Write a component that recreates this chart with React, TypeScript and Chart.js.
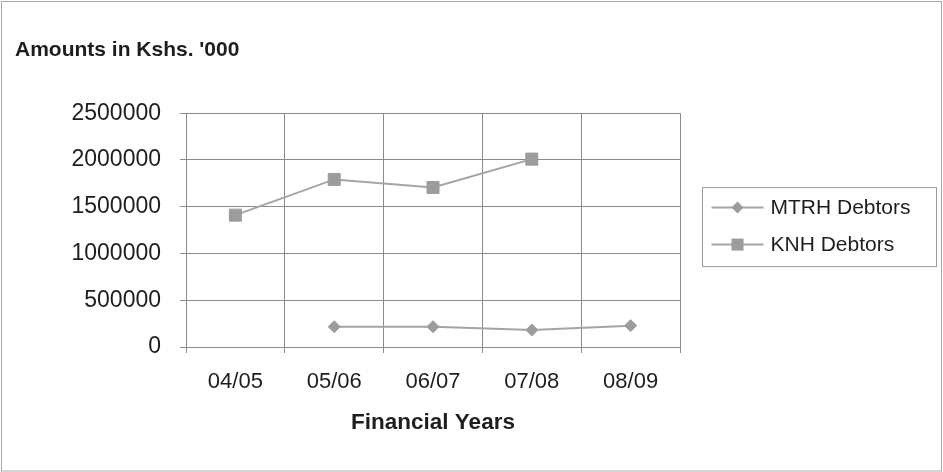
import React, { useEffect, useRef } from "react";
import { Chart, registerables } from "chart.js";

Chart.register(...registerables);

const categories = ["04/05", "05/06", "06/07", "07/08", "08/09"];
const mtrhDebtors: (number | null)[] = [null, 217000, 217000, 182000, 228000];
const knhDebtors: (number | null)[] = [1410000, 1792000, 1706000, 2009000, null];
const yMin = 0;
const yMax = 2500000;
const yStep = 500000;
const seriesNames = ["MTRH Debtors", "KNH Debtors"];
const chartTitle = "Amounts in Kshs. '000";
const xTitle = "Financial Years";

const LINE = "#a4a4a4";
const MARK = "#9c9c9c";
const GRID = "#8a8a8a";
const TEXT = "#1e1e1e";
const FONT = "'Liberation Sans', Arial, sans-serif";

const framePlugin = {
  id: "frame",
  beforeDraw(chart: any) {
    const { ctx, width, height } = chart;
    ctx.save();
    ctx.fillStyle = "#ffffff";
    ctx.fillRect(0, 0, width, height);
    ctx.strokeStyle = "#a8a8a8";
    ctx.lineWidth = 1;
    ctx.strokeRect(1.5, 1.5, width - 3, height - 2.5);
    ctx.restore();
  },
};

function drawMarker(ctx: CanvasRenderingContext2D, style: string, x: number, y: number, r: number) {
  ctx.beginPath();
  if (style === "rectRot") {
    ctx.moveTo(x, y - r);
    ctx.lineTo(x + r, y);
    ctx.lineTo(x, y + r);
    ctx.lineTo(x - r, y);
    ctx.closePath();
  } else {
    const s = Math.SQRT1_2 * r;
    ctx.rect(x - s, y - s, 2 * s, 2 * s);
  }
  ctx.fill();
}

const legendPlugin = {
  id: "boxLegend",
  afterDraw(chart: any) {
    const { ctx, chartArea } = chart;
    const x0 = chartArea.right + 22.5;
    const cy = (chartArea.top + chartArea.bottom) / 2;
    const top = cy - 42.5;
    const w = 234;
    const h = 79;
    ctx.save();
    ctx.strokeStyle = "#9a9a9a";
    ctx.lineWidth = 1;
    ctx.strokeRect(x0, top, w, h);
    chart.data.datasets.forEach((ds: any, i: number) => {
      const y = top + 20 + i * 37;
      ctx.strokeStyle = ds.borderColor;
      ctx.lineWidth = 2;
      ctx.beginPath();
      ctx.moveTo(x0 + 9, y);
      ctx.lineTo(x0 + 61, y);
      ctx.stroke();
      ctx.fillStyle = ds.pointBackgroundColor;
      drawMarker(ctx, ds.pointStyle, x0 + 35, y, ds.pointRadius);
      ctx.fillStyle = TEXT;
      ctx.font = `21px ${FONT}`;
      ctx.textBaseline = "middle";
      ctx.textAlign = "left";
      ctx.fillText(ds.label, x0 + 68, y + 1);
    });
    ctx.restore();
  },
};

export default function App() {
  const canvasRef = useRef<HTMLCanvasElement | null>(null);

  useEffect(() => {
    document.body.style.margin = "0";
    const canvas = canvasRef.current;
    if (!canvas) return;
    const chart = new Chart(canvas, {
      type: "line",
      data: {
        labels: categories,
        datasets: [
          {
            label: seriesNames[0],
            data: mtrhDebtors,
            borderColor: LINE,
            backgroundColor: MARK,
            pointBackgroundColor: MARK,
            pointBorderColor: MARK,
            pointStyle: "rectRot",
            pointRadius: 6,
            pointBorderWidth: 1,
            borderWidth: 2,
            tension: 0,
            spanGaps: false,
          },
          {
            label: seriesNames[1],
            data: knhDebtors,
            borderColor: LINE,
            backgroundColor: MARK,
            pointBackgroundColor: MARK,
            pointBorderColor: MARK,
            pointStyle: "rect",
            pointRadius: 8.5,
            pointBorderWidth: 1,
            borderWidth: 2,
            tension: 0,
            spanGaps: false,
          },
        ],
      },
      options: {
        animation: false,
        responsive: true,
        maintainAspectRatio: false,
        layout: { padding: { left: 15, right: 263, top: 0, bottom: 0 } },
        plugins: {
          legend: { display: false },
          tooltip: { enabled: false },
          title: {
            display: true,
            text: chartTitle,
            align: "start",
            color: TEXT,
            font: { family: FONT, size: 21, weight: "bold" },
            padding: { top: 38, bottom: 50 },
          },
        },
        scales: {
          x: {
            offset: true,
            grid: {
              offset: true,
              color: GRID,
              lineWidth: 1,
              drawTicks: true,
              tickLength: 6,
              tickColor: GRID,
            },
            border: { color: GRID },
            ticks: {
              color: TEXT,
              font: { family: FONT, size: 22 },
              padding: 16,
              maxRotation: 0,
            },
            title: {
              display: true,
              text: xTitle,
              color: TEXT,
              font: { family: FONT, size: 22.5, weight: "bold" },
              padding: { top: 0, bottom: 36 },
            },
            afterFit: (scale: any) => {
              scale.height = 125;
            },
          },
          y: {
            min: yMin,
            max: yMax,
            grid: {
              color: GRID,
              lineWidth: 1,
              drawTicks: true,
              tickLength: 6,
              tickColor: GRID,
            },
            border: { color: GRID },
            ticks: {
              stepSize: yStep,
              color: TEXT,
              font: { family: FONT, size: 23 },
              padding: 19,
              callback: (v: any) => String(v),
            },
            afterFit: (scale: any) => {
              scale.width = 171;
            },
          },
        },
      },
      plugins: [framePlugin, legendPlugin],
    });
    return () => chart.destroy();
  }, []);

  return (
    <div style={{ position: "fixed", left: 0, top: 0, width: 943, height: 472 }}>
      <canvas ref={canvasRef} />
    </div>
  );
}
